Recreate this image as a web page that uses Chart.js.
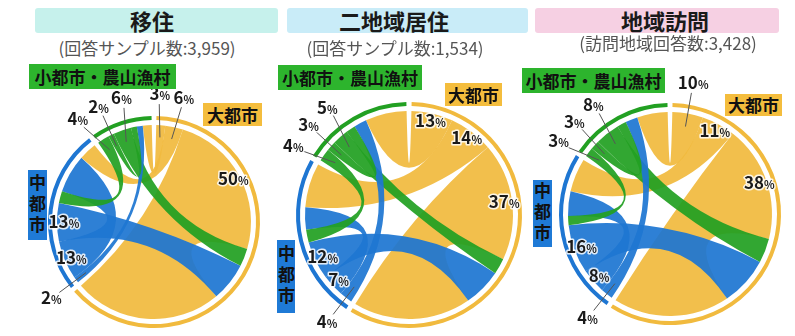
<!DOCTYPE html>
<html>
<head>
<meta charset="utf-8">
<script src="https://cdn.jsdelivr.net/npm/chart.js@4.4.0/dist/chart.umd.min.js"></script>
<style>
  body { margin: 0; width: 795px; height: 336px; overflow: hidden; background: #fff; position: relative;
         font-family: "Noto Sans CJK JP", "Noto Sans", sans-serif; }
  canvas { position: absolute; }
  .box { position: absolute; top: 8px; height: 25px; border-radius: 3px; }
  .ttl { position: absolute; top: 8px; height: 25px; line-height: 25px; font-size: 22px; font-weight: bold;
         color: #1a1a1a; transform: translateX(-50%); white-space: nowrap; z-index: 2; }
  .note { position: absolute; font-size: 17px; line-height: 19px; color: #555; transform: translate(-50%, -50%);
          white-space: nowrap; z-index: 2; }
  .tag { position: absolute; font-size: 17px; font-weight: bold; color: #111; text-align: center;
         white-space: nowrap; overflow: hidden; z-index: 2; }
  .tag.v { writing-mode: vertical-rl; text-orientation: upright; letter-spacing: 4px; }
</style>
</head>
<body>
<script>
// groups, in the order they sit round each circle (clockwise from the top)
const groupNames = ['大都市', '中都市', '小都市・農山漁村'];
const panelTitles = ['移住', '二地域居住', '地域訪問'];
const sampleNotes = ['(回答サンプル数:3,959)', '(回答サンプル数:1,534)', '(訪問地域回答数:3,428)'];

// share of answers (%), row = from, column = to (same order as groupNames)
const migrationFlows = [[50, 6, 3], [13, 13, 2], [6, 4, 2]];
const dualHomeFlows  = [[37, 14, 13], [12, 7, 4], [5, 4, 3]];
const visitFlows     = [[38, 11, 10], [16, 8, 4], [8, 3, 3]];
const panelFlows = [migrationFlows, dualHomeFlows, visitFlows];

// ---- look & layout ----
const fam = '"Noto Sans CJK JP", "Noto Sans", sans-serif';
const colors = ['#f1ba3e', '#1e76d2', '#22a022'];
const tagColors = ['#f4bd3d', '#1f7ad6', '#2db42d'];
const gap = 1.5;                                   // gap between group arcs, in % units
const outOrder = [[2, 1, 0], [2, 1, 0], [1, 2, 0]]; // outgoing ends along each arc
const inOrder = [2, 1, 0];                          // incoming ends along each arc
const insideMin = [11, 5, 100];                     // smaller values get an outside label

const layout = [
  { cx: 154, cy: 222, r: 106, box: [35, 278, '#c6f1ec'], titleX: 152, noteX: 147, noteY: 47,
    tags: [[203, 103, 59, 23], [28, 170, 19, 70], [29, 64, 147, 25]] },
  { cx: 409, cy: 215, r: 113, box: [287, 528, '#c9ecf8'], titleX: 394, noteX: 395, noteY: 47,
    tags: [[445, 83, 57, 23], [277, 240, 18, 73], [278, 65, 144, 25]] },
  { cx: 670, cy: 214, r: 111, box: [535, 779, '#f6d0e3'], titleX: 665, noteX: 668, noteY: 42,
    tags: [[725, 94, 57, 22], [533, 180, 19, 67], [522, 68, 143, 25]] }
];

function addDiv(cls, text, css) {
  const d = document.createElement('div');
  d.className = cls;
  d.textContent = text;
  Object.assign(d.style, css);
  document.body.appendChild(d);
  return d;
}

function drawPct(ctx, v, x, y) {
  const num = String(v);
  const big = 'bold 17px ' + fam, small = 'bold 11px ' + fam;
  ctx.font = big; const w1 = ctx.measureText(num).width;
  ctx.font = small; const w2 = ctx.measureText('%').width;
  const x0 = x - (w1 + w2) / 2, base = y + 6;
  ctx.textAlign = 'left';
  ctx.textBaseline = 'alphabetic';
  ctx.lineJoin = 'round';
  ctx.lineWidth = 3;
  ctx.strokeStyle = 'rgba(255,255,255,0.85)';
  ctx.fillStyle = '#1a1a1a';
  ctx.font = big; ctx.strokeText(num, x0, base); ctx.fillText(num, x0, base);
  ctx.font = small; ctx.strokeText('%', x0 + w1, base); ctx.fillText('%', x0 + w1, base);
}

// ribbons between the ends of the inner (hidden) ring, then the % labels
const chordPlugin = {
  id: 'chords',
  afterDatasetsDraw(chart) {
    const ctx = chart.ctx;
    const ds = chart.data.datasets[1];
    const arcs = chart.getDatasetMeta(1).data;
    const R = chart.getDatasetMeta(0).data[0].outerRadius;
    const endOf = (s, d, out) =>
      arcs[ds.ends.findIndex(e => e && e.src === s && e.dst === d && e.out === out)];

    const pairs = [];
    for (let s = 0; s < 3; s++) for (let d = 0; d < 3; d++) pairs.push({ s, d, v: ds.flows[s][d] });
    pairs.sort((a, b) => b.v - a.v);

    ctx.save();
    ctx.globalAlpha = 0.93;
    pairs.forEach(p => {
      const a = endOf(p.s, p.d, true), b = endOf(p.s, p.d, false);
      const x = a.x, y = a.y, r = a.innerRadius;
      ctx.fillStyle = colors[p.s];
      ctx.beginPath();
      ctx.arc(x, y, r, a.startAngle, a.endAngle);
      ctx.quadraticCurveTo(x, y, x + r * Math.cos(b.startAngle), y + r * Math.sin(b.startAngle));
      ctx.arc(x, y, r, b.startAngle, b.endAngle);
      ctx.quadraticCurveTo(x, y, x + r * Math.cos(a.startAngle), y + r * Math.sin(a.startAngle));
      ctx.closePath();
      ctx.fill();
    });
    ctx.restore();

    // labels
    ctx.save();
    const outside = [[], [], []];
    ds.ends.forEach((e, i) => {
      if (!e || !e.out) return;
      const arc = arcs[i];
      const mid = (arc.startAngle + arc.endAngle) / 2;
      const v = ds.flows[e.src][e.dst];
      if (v >= insideMin[e.src]) {
        drawPct(ctx, v, arc.x + 0.85 * R * Math.cos(mid), arc.y + 0.85 * R * Math.sin(mid));
      } else {
        outside[e.src].push({ v, mid, ang: mid, x: arc.x, y: arc.y });
      }
    });
    const sep = 0.19;
    outside.forEach(list => {
      list.sort((a, b) => a.mid - b.mid);
      for (let k = 0; k < 40; k++) {
        for (let i = 0; i + 1 < list.length; i++) {
          const d = list[i + 1].ang - list[i].ang;
          if (d < sep) { list[i].ang -= (sep - d) / 2; list[i + 1].ang += (sep - d) / 2; }
        }
      }
      list.forEach(it => {
        ctx.strokeStyle = '#555';
        ctx.lineWidth = 1;
        ctx.beginPath();
        ctx.moveTo(it.x + (R + 12) * Math.cos(it.ang), it.y + (R + 12) * Math.sin(it.ang));
        ctx.lineTo(it.x + 0.8 * R * Math.cos(it.mid), it.y + 0.8 * R * Math.sin(it.mid));
        ctx.stroke();
        drawPct(ctx, it.v, it.x + (R + 22) * Math.cos(it.ang), it.y + (R + 22) * Math.sin(it.ang));
      });
    });
    ctx.restore();
  }
};

layout.forEach((L, p) => {
  const flows = panelFlows[p];

  addDiv('box', '', { left: L.box[0] + 'px', width: (L.box[1] - L.box[0]) + 'px', background: L.box[2] });
  addDiv('ttl', panelTitles[p], { left: L.titleX + 'px' });
  addDiv('note', sampleNotes[p], { left: L.noteX + 'px', top: L.noteY + 'px' });
  L.tags.forEach((t, g) => {
    addDiv('tag' + (g === 1 ? ' v' : ''), groupNames[g], {
      left: t[0] + 'px', top: t[1] + 'px', width: t[2] + 'px', height: t[3] + 'px',
      lineHeight: (g === 1 ? t[2] : t[3]) + 'px', background: tagColors[g]
    });
  });

  // ring = one arc per group, inner ring = one end per flow
  const ends = [], endVals = [], ringVals = [], ringCols = [];
  for (let g = 0; g < 3; g++) {
    let tot = 0;
    outOrder[g].forEach(d => { ends.push({ src: g, dst: d, out: true }); endVals.push(flows[g][d]); tot += flows[g][d]; });
    inOrder.forEach(s => { ends.push({ src: s, dst: g, out: false }); endVals.push(flows[s][g]); tot += flows[s][g]; });
    ends.push(null); endVals.push(gap);
    ringVals.push(tot, gap);
    ringCols.push(colors[g], 'rgba(0,0,0,0)');
  }
  const total = ringVals.reduce((a, b) => a + b, 0);

  const S = 2 * (L.r + 48);
  const cv = document.createElement('canvas');
  cv.width = S; cv.height = S;
  cv.style.left = (L.cx - S / 2) + 'px';
  cv.style.top = (L.cy - S / 2) + 'px';
  document.body.appendChild(cv);

  new Chart(cv, {
    type: 'doughnut',
    data: {
      labels: ringVals.map((v, i) => i),
      datasets: [
        { data: ringVals, backgroundColor: ringCols, borderWidth: 0, weight: 4 },
        { data: endVals, backgroundColor: 'rgba(0,0,0,0)', borderWidth: 0, weight: 5, ends, flows }
      ]
    },
    options: {
      responsive: false,
      animation: false,
      events: [],
      radius: L.r,
      cutout: ((L.r - 9) / L.r * 100) + '%',
      rotation: 360 * gap / total / 2,
      plugins: { legend: { display: false }, tooltip: { enabled: false } }
    },
    plugins: [chordPlugin]
  });
});
</script>
</body>
</html>
